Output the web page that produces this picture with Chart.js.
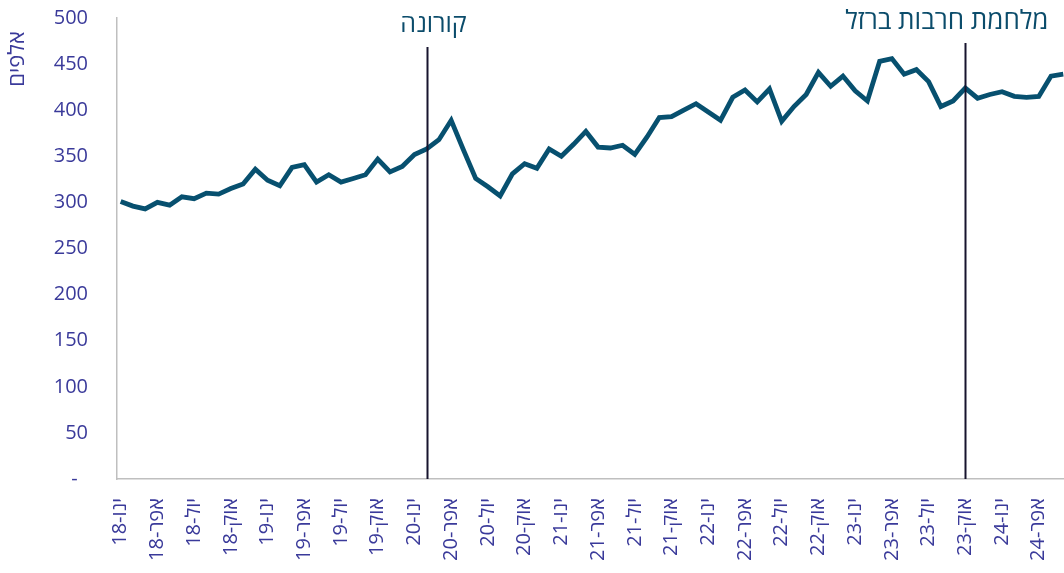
<!DOCTYPE html>
<html>
<head>
<meta charset="utf-8">
<script src="https://cdn.jsdelivr.net/npm/chart.js@4.4.1/dist/chart.umd.min.js"></script>
<style>
  body { margin: 0; background: #fff; }
  #wrap { width: 1064px; height: 573px; position: relative; }
</style>
</head>
<body>
<div id="wrap"><canvas id="chart"></canvas></div>
<script>
// month names (Hebrew short) and years
var monthNames = ["ינו", "פבר", "מרץ", "אפר", "מאי", "יונ", "יול", "אוג", "ספט", "אוק", "נוב", "דצמ"];
var years = ["18", "19", "20", "21", "22", "23", "24"];

// values in thousands, Jan 2018 - Jun 2024
var values = [
  301, 296, 293, 300, 297, 306, 304, 310, 309, 315, 320, 336,
  324, 318, 338, 341, 322, 330, 322, 326, 330, 347, 333, 339,
  352, 358, 368, 389, 357, 326, 317, 307, 331, 342, 337, 358,
  350, 363, 377, 360, 359, 362, 352, 371, 392, 393, 400, 407,
  398, 389, 414, 422, 409, 423, 388, 404, 417, 441, 426, 437,
  421, 410, 453, 456, 439, 444, 431, 404, 410, 424, 413, 417,
  420, 415, 414, 415, 437, 439
];

// event markers (index into months)
var eventIndex = [25, 69];
var eventNames = ["קורונה", "מלחמת חרבות ברזל"];

var yTitle = "אלפים";

// build month labels
var months = [];
years.forEach(function(y){
  monthNames.forEach(function(m){ months.push(m + "-" + y); });
});
months = months.slice(0, values.length);

var FONT = "'Open Sans', 'Noto Sans', sans-serif";
var tickColor = "#3a3a9a";

// draws the vertical event lines, their labels and the y title
var eventsPlugin = {
  id: "events",
  afterDatasetsDraw: function(chart){
    var ctx = chart.ctx;
    var xs = chart.scales.x;
    var area = chart.chartArea;
    var tops = [47, 43];
    var textDx = [6, 83];
    var textY = [25, 22];
    var sizes = [25, 26];
    var aligns = ["center", "right"];
    ctx.save();
    eventIndex.forEach(function(idx, i){
      var x = Math.round(xs.getPixelForValue(idx)) + 0.5;
      ctx.beginPath();
      ctx.strokeStyle = "#17142e";
      ctx.lineWidth = 2;
      ctx.moveTo(x, tops[i]);
      ctx.lineTo(x, area.bottom);
      ctx.stroke();
      ctx.fillStyle = "#0b4c6b";
      ctx.font = sizes[i] + "px " + FONT;
      ctx.textAlign = aligns[i];
      ctx.textBaseline = "middle";
      ctx.fillText(eventNames[i], x + textDx[i], textY[i]);
    });
    // y axis title
    ctx.translate(18, 59);
    ctx.rotate(-Math.PI / 2);
    ctx.fillStyle = tickColor;
    ctx.font = "22px " + FONT;
    ctx.textAlign = "center";
    ctx.textBaseline = "middle";
    ctx.fillText(yTitle, 0, 0);
    ctx.restore();
  }
};

var ctx1 = document.getElementById("chart");

var chart1 = new Chart(ctx1, {
  type: "line",
  data: {
    datasets: [{
      data: values.map(function(v, i){ return { x: i, y: v }; }),
      borderColor: "#07506f",
      borderWidth: 4.8,
      pointRadius: 0,
      tension: 0,
      fill: false
    }]
  },
  options: {
    responsive: true,
    maintainAspectRatio: false,
    animation: false,
    layout: { padding: { top: 18, left: 0, right: 0, bottom: 0 } },
    plugins: {
      legend: { display: false },
      tooltip: { enabled: false }
    },
    scales: {
      x: {
        type: "linear",
        min: -0.3,
        max: 77.06,
        grid: { display: false, drawTicks: false },
        border: { display: true, color: "#bfbfbf", width: 1.5 },
        afterBuildTicks: function(scale){
          var t = [];
          for (var i = 0; i < months.length; i += 3) t.push({ value: i });
          scale.ticks = t;
        },
        afterFit: function(scale){
          scale.height = 94;
          scale.paddingLeft = 0;
          scale.paddingRight = 0;
        },
        ticks: {
          autoSkip: false,
          minRotation: 90,
          maxRotation: 90,
          padding: 19,
          color: tickColor,
          font: { family: FONT, size: 20 },
          callback: function(v){ return months[v]; }
        }
      },
      y: {
        min: 0,
        max: 500,
        grid: { display: false, drawTicks: false },
        border: { display: true, color: "#bfbfbf", width: 1.5 },
        afterFit: function(scale){
          scale.width = 117;
          scale.paddingTop = 0;
          scale.paddingBottom = 0;
        },
        ticks: {
          stepSize: 50,
          padding: 29,
          color: tickColor,
          font: { family: FONT, size: 20 },
          callback: function(v){ return v === 0 ? "-  " : v; }
        }
      }
    }
  },
  plugins: [eventsPlugin]
});
</script>
</body>
</html>
